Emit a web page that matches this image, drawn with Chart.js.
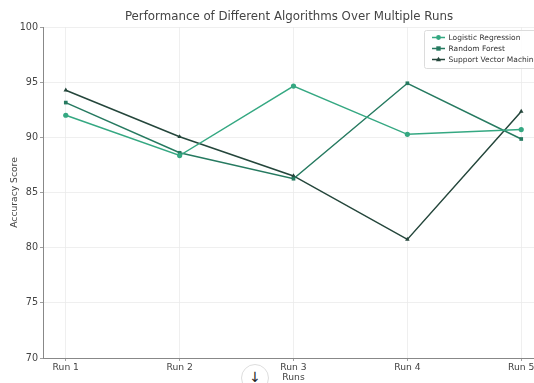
<!DOCTYPE html>
<html><head><meta charset="utf-8">
<script src="https://cdn.jsdelivr.net/npm/chart.js@4"></script>
<style>
html,body{margin:0;padding:0;background:#fff;overflow:hidden;width:534px;height:383px;}
#wrap{position:absolute;left:0;top:0;width:560px;height:383px;}
#btn{position:absolute;left:241px;top:364px;width:26px;height:26px;border-radius:50%;border:1px solid #ddd;background:#fff;font:14px "DejaVu Sans";text-align:center;line-height:24px;color:#222;}
</style></head>
<body>
<div id="wrap"><canvas id="c" width="560" height="383"></canvas></div>
<div id="btn">↓</div>
<script>
const runs = ["Run 1","Run 2","Run 3","Run 4","Run 5"];
const logisticRegression = [92.0, 88.35, 94.65, 90.27, 90.7];
const randomForest = [93.15, 88.6, 86.25, 94.9, 89.85];
const svm = [94.27, 90.05, 86.5, 80.75, 92.35];
const seriesNames = ["Logistic Regression","Random Forest","Support Vector Machine"];
const yTicks = [70,75,80,85,90,95,100];

const colors = ["#35a882","#267a60","#24463b"];
const shapes = ["circle","rect","triangle"];
const radii = [2.6,2.6,2.6];
const allData = [logisticRegression, randomForest, svm];

const legendPlugin = {
  id:'customLegend',
  afterDraw(chart){
    const ctx = chart.ctx;
    ctx.save();
    const x0=424, y0=30, w=140, h=38;
    ctx.fillStyle='rgba(255,255,255,0.85)';
    ctx.strokeStyle='#dcdcdc';
    ctx.lineWidth=1;
    ctx.beginPath();
    ctx.roundRect(x0+0.5,y0+0.5,w,h,2);
    ctx.fill(); ctx.stroke();
    chart.data.datasets.forEach((ds,i)=>{
      const y = y0+7.5+i*11;
      ctx.strokeStyle=ds.borderColor; ctx.lineWidth=1.5;
      ctx.beginPath(); ctx.moveTo(432,y); ctx.lineTo(445,y); ctx.stroke();
      ctx.fillStyle=ds.borderColor;
      ctx.beginPath();
      if(ds.pointStyle==='circle'){ctx.arc(438.5,y,2.4,0,Math.PI*2);}
      else if(ds.pointStyle==='rect'){ctx.rect(436.3,y-2.2,4.4,4.4);}
      else {ctx.moveTo(438.5,y-2.8);ctx.lineTo(441.1,y+1.8);ctx.lineTo(435.9,y+1.8);ctx.closePath();}
      ctx.fill();
      ctx.fillStyle='#333'; ctx.font='7.5px "DejaVu Sans"';
      ctx.textBaseline='middle'; ctx.textAlign='left';
      ctx.fillText(ds.label,448.5,y+0.5);
    });
    // title
    ctx.fillStyle='#444'; ctx.font='11.8px "DejaVu Sans"'; ctx.textAlign='center'; ctx.textBaseline='middle';
    ctx.fillText("Performance of Different Algorithms Over Multiple Runs",289,17);
    ctx.restore();
  }
};

new Chart(document.getElementById('c'),{
  type:'line',
  data:{
    datasets: seriesNames.map((n,i)=>({
      label:n,
      data: allData[i].map((v,j)=>({x:j,y:v})),
      borderColor:colors[i], backgroundColor:colors[i],
      borderWidth:1.5, pointStyle:shapes[i], pointRadius:radii[i],
      pointBorderWidth:0, tension:0
    }))
  },
  options:{
    responsive:false, animation:false,
    layout:{padding:{top:27,right:16,left:0,bottom:0}},
    plugins:{legend:{display:false},title:{display:false},tooltip:{enabled:false}},
    scales:{
      x:{type:'linear',min:-0.2,max:4.2,
        afterBuildTicks(s){s.ticks=runs.map((_,i)=>({value:i}));},
        afterFit(s){s.height=25;},
        ticks:{callback:(v)=>runs[v]??'',color:'#444',font:{family:'DejaVu Sans',size:9.2},padding:1,maxRotation:0,autoSkip:false},
        grid:{color:'#ebebeb',lineWidth:0.8,tickLength:3,tickColor:'#888'},
        border:{display:true,color:'#888',width:1},
        title:{display:true,text:'Runs',color:'#444',font:{family:'DejaVu Sans',size:9.2},padding:{top:0,bottom:0}}
      },
      y:{min:70,max:100,
        afterBuildTicks(s){s.ticks=yTicks.map(v=>({value:v}));},
        afterFit(s){s.width=43;},
        ticks:{color:'#444',font:{family:'DejaVu Sans',size:9.6},padding:2},
        grid:{color:'#ebebeb',lineWidth:0.8,tickLength:3,tickColor:'#888'},
        border:{display:true,color:'#888',width:1},
        title:{display:true,text:'Accuracy Score',color:'#444',font:{family:'DejaVu Sans',size:9.2},padding:{top:9,bottom:2}}
      }
    }
  },
  plugins:[legendPlugin]
});
</script>
</body></html>
